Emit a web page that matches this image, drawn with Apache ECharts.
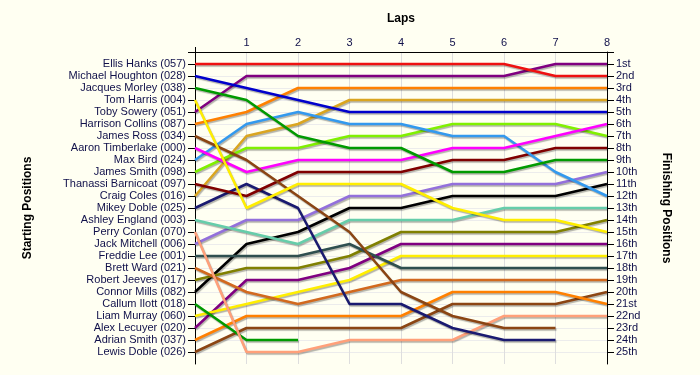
<!DOCTYPE html>
<html>
<head>
<meta charset="utf-8">
<script src="https://cdn.jsdelivr.net/npm/echarts@6/dist/echarts.min.js"></script>
<style>
html,body{margin:0;padding:0;background:#fffff2;}
#chart{width:700px;height:375px;}
</style>
</head>
<body>
<div id="chart"></div>
<script>
const laps = ['0','1','2','3','4','5','6','7','8'];
const drivers = [
  'Ellis Hanks (057)','Michael Houghton (028)','Jacques Morley (038)','Tom Harris (004)',
  'Toby Sowery (051)','Harrison Collins (087)','James Ross (034)','Aaron Timberlake (000)',
  'Max Bird (024)','James Smith (098)','Thanassi Barnicoat (097)','Craig Coles (016)',
  'Mikey Doble (025)','Ashley England (003)','Perry Conlan (070)','Jack Mitchell (006)',
  'Freddie Lee (001)','Brett Ward (021)','Robert Jeeves (017)','Connor Mills (082)',
  'Callum Ilott (018)','Liam Murray (060)','Alex Lecuyer (020)','Adrian Smith (037)',
  'Lewis Doble (026)'
];
const finishLabels = ['1st','2nd','3rd','4th','5th','6th','7th','8th','9th','10th','11th','12th',
  '13th','14th','15th','16th','17th','18th','19th','20th','21st','22nd','23rd','24th','25th'];
const colors = ['#ee1111','#0000cc','#009a00','#ffee00','#800080','#ff8000','#8b4513','#ff00ff',
  '#3399ee','#80f000','#800000','#daa520','#1a1a70','#66cdaa','#ffa07a','#9370db',
  '#2f4f4f','#d2691e','#808000','#000000','#009a00','#ffee00','#800080','#ff8000','#8b4513'];
// position of each driver after each lap (index = lap), in starting order
const positions = [
  [1,1,1,1,1,1,1,2,2],
  [2,3,4,5,5,5,5,5,5],
  [3,4,7,8,8,10,10,9,9],
  [4,13,11,11,11,13,14,14,15],
  [5,2,2,2,2,2,2,1,1],
  [6,5,3,3,3,3,3,3,3],
  [7,9,12,15,20,22,23,23,null],
  [8,10,9,9,9,8,8,7,6],
  [9,6,5,6,6,7,7,10,12],
  [10,8,8,7,7,6,6,6,7],
  [11,12,10,10,10,9,9,8,8],
  [12,7,6,4,4,4,4,4,4],
  [13,11,13,21,21,23,24,24,null],
  [14,15,16,14,14,14,13,13,13],
  [15,25,25,24,24,24,22,22,22],
  [16,14,14,12,12,11,11,11,10],
  [17,17,17,16,18,18,18,18,18],
  [18,20,21,20,19,19,19,19,19],
  [19,18,18,17,15,15,15,15,14],
  [20,16,15,13,13,12,12,12,11],
  [21,24,24,null,null,null,null,null,null],
  [22,21,20,19,17,17,17,17,17],
  [23,19,19,18,16,16,16,16,16],
  [24,22,22,22,22,20,20,20,21],
  [25,23,23,23,23,21,21,21,20]
];

const rows = [];
for (let i = 0; i <= 25; i++) rows.push(i);
const labelRows = rows.slice(1);
const font = '"Liberation Sans", Arial, sans-serif';
const textColor = '#10104a';

const series = positions.map((p, i) => ({
  name: drivers[i],
  type: 'line',
  data: p,
  symbol: 'none',
  connectNulls: false,
  animation: false,
  lineStyle: {
    color: colors[i], width: 2.5,
    shadowColor: 'rgba(0,0,0,0.3)', shadowBlur: 1, shadowOffsetX: 1, shadowOffsetY: 1.5
  },
  z: 30 - i
}));

const chart = echarts.init(document.getElementById('chart'), null, {renderer: 'canvas'});
chart.setOption({
  backgroundColor: '#fffff2',
  animation: false,
  grid: {left: 195, top: 52, width: 412, height: 312},
  xAxis: {
    type: 'category', position: 'top', boundaryGap: false, data: laps,
    name: 'Laps', nameLocation: 'middle', nameGap: 27,
    nameTextStyle: {fontFamily: font, fontSize: 12, fontWeight: 'bold', color: '#000'},
    axisLine: {lineStyle: {color: '#000', width: 1}},
    axisTick: {show: true, length: 5, interval: (i) => i === 0, lineStyle: {color: '#000'}},
    axisLabel: {fontFamily: font, fontSize: 11, color: textColor, margin: 4,
      formatter: (v) => v === '0' ? '' : v},
    splitLine: {show: true, interval: 0, lineStyle: {color: '#dedede', width: 1}}
  },
  yAxis: [
    {
      type: 'value', position: 'left', inverse: true, min: 0, max: 26, interval: 1,
      name: 'Starting Positions', nameLocation: 'middle', nameGap: 161, nameRotate: 90,
      nameTextStyle: {fontFamily: font, fontSize: 12, fontWeight: 'bold', color: '#000'},
      axisLine: {show: true, lineStyle: {color: '#000', width: 1}},
      axisTick: {show: true, length: 7, customValues: rows, lineStyle: {color: '#000'}},
      axisLabel: {fontFamily: font, fontSize: 11, color: textColor, margin: 9,
        customValues: labelRows, formatter: (v) => drivers[v - 1] || ''},
      splitLine: {show: true, lineStyle: {color: '#ececec', width: 1}}
    },
    {
      type: 'value', position: 'right', inverse: true, min: 0, max: 26, interval: 1,
      name: 'Finishing Positions', nameLocation: 'middle', nameGap: 53, nameRotate: -90,
      nameTextStyle: {fontFamily: font, fontSize: 12, fontWeight: 'bold', color: '#000'},
      axisLine: {show: true, lineStyle: {color: '#000', width: 1}},
      axisTick: {show: true, length: 7, customValues: rows, lineStyle: {color: '#000'}},
      axisLabel: {fontFamily: font, fontSize: 11, color: textColor, margin: 9,
        customValues: labelRows, formatter: (v) => finishLabels[v - 1] || ''},
      splitLine: {show: false}
    }
  ],
  series: series
});
</script>
</body>
</html>
